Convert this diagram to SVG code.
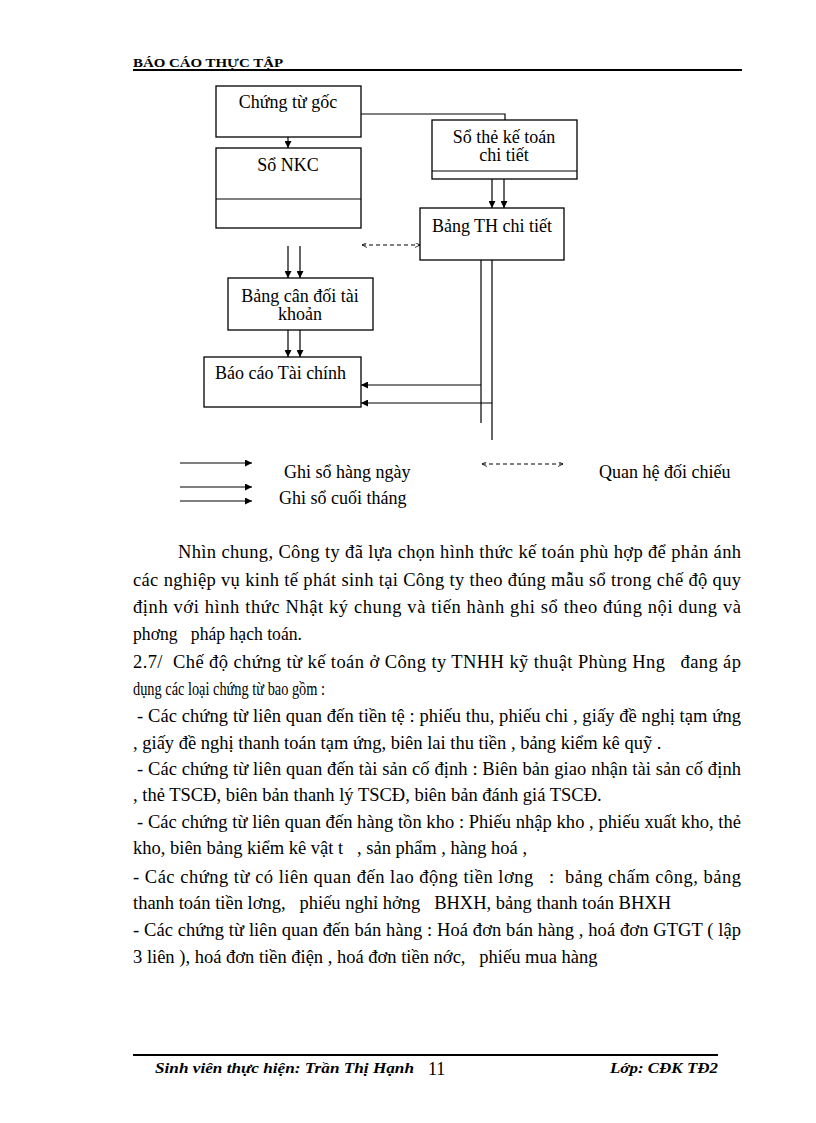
<svg xmlns="http://www.w3.org/2000/svg" width="816" height="1123" viewBox="0 0 816 1123">
<style>
.box{fill:#fff;stroke:#000;stroke-width:1.3}
.ln{stroke:#000;stroke-width:1.2;fill:none}
.dash{stroke:#000;stroke-width:1;fill:none;stroke-dasharray:4 3}
.t{font-family:"Liberation Serif","Times New Roman",serif;font-size:18px;fill:#000}
.b{font-family:"Liberation Serif","Times New Roman",serif;font-size:18.5px;fill:#000}
.hd{font-family:"Liberation Serif",serif;font-weight:bold;font-size:12px;fill:#000}
.ft{font-family:"Liberation Serif",serif;font-weight:bold;font-style:italic;font-size:14px;fill:#000}
</style>
<defs>
<marker id="ah" viewBox="0 0 10 10" refX="10" refY="5" markerWidth="7" markerHeight="7" markerUnits="userSpaceOnUse" orient="auto">
<path d="M0,0 L10,5 L0,10 z" fill="#000"/>
</marker>
<marker id="oh" viewBox="0 0 10 10" refX="10" refY="5" markerWidth="5" markerHeight="5" markerUnits="userSpaceOnUse" orient="auto-start-reverse">
<path d="M0,0 L10,5 L0,10" fill="none" stroke="#000" stroke-width="1.5"/>
</marker>
</defs>

<g id="header">
<text class="hd" x="133" y="67" textLength="150" lengthAdjust="spacingAndGlyphs">BÁO CÁO THỰC TẬP</text>
<line x1="133" y1="70" x2="742" y2="70" stroke="#000" stroke-width="2"/>
</g>

<g id="connectors">
<line class="ln" x1="288" y1="137" x2="288" y2="148" marker-end="url(#ah)"/>
<polyline class="ln" points="361,114 505,114 505,120"/>
<line class="ln" x1="492" y1="179" x2="492" y2="208" marker-end="url(#ah)"/>
<line class="ln" x1="504" y1="179" x2="504" y2="208" marker-end="url(#ah)"/>
<line class="dash" x1="362" y1="245" x2="420" y2="245" marker-start="url(#oh)" marker-end="url(#oh)"/>
<line class="ln" x1="288" y1="246" x2="288" y2="278" marker-end="url(#ah)"/>
<line class="ln" x1="300" y1="246" x2="300" y2="278" marker-end="url(#ah)"/>
<line class="ln" x1="288" y1="330" x2="288" y2="357" marker-end="url(#ah)"/>
<line class="ln" x1="300" y1="330" x2="300" y2="357" marker-end="url(#ah)"/>
<line class="ln" x1="481" y1="260" x2="481" y2="423"/>
<line class="ln" x1="492" y1="260" x2="492" y2="440"/>
<line class="ln" x1="481" y1="385" x2="361" y2="385" marker-end="url(#ah)"/>
<line class="ln" x1="492" y1="403" x2="361" y2="403" marker-end="url(#ah)"/>
</g>

<g id="n-chungtugoc">
<rect class="box" x="216" y="86" width="145" height="51"/>
<text class="t" x="288" y="108" text-anchor="middle">Chứng từ gốc</text>
</g>
<g id="n-sonkc">
<rect class="box" x="216" y="148" width="145" height="80"/>
<line class="ln" x1="216" y1="199" x2="361" y2="199"/>
<text class="t" x="288" y="171" text-anchor="middle">Sổ NKC</text>
</g>
<g id="n-sothe">
<rect class="box" x="432" y="120" width="145" height="59"/>
<line class="ln" x1="432" y1="171" x2="577" y2="171"/>
<text class="t" x="504" y="143" text-anchor="middle">Sổ thẻ kế toán</text>
<text class="t" x="504" y="161" text-anchor="middle">chi tiết</text>
</g>
<g id="n-bangth">
<rect class="box" x="420" y="208" width="144" height="52"/>
<text class="t" x="492" y="232" text-anchor="middle">Bảng TH chi tiết</text>
</g>
<g id="n-bangcandoi">
<rect class="box" x="228" y="278" width="145" height="52"/>
<text class="t" x="300" y="302" text-anchor="middle">Bảng cân đối tài</text>
<text class="t" x="300" y="320" text-anchor="middle">khoản</text>
</g>
<g id="n-baocao">
<rect class="box" x="204" y="357" width="157" height="50"/>
<text class="t" x="215" y="379">Báo cáo  Tài chính</text>
</g>

<g id="legend">
<line class="ln" x1="180" y1="463" x2="252" y2="463" marker-end="url(#ah)"/>
<text class="t" x="284" y="478">Ghi sổ hàng ngày</text>
<line class="ln" x1="180" y1="487" x2="252" y2="487" marker-end="url(#ah)"/>
<line class="ln" x1="180" y1="501" x2="252" y2="501" marker-end="url(#ah)"/>
<text class="t" x="279" y="504">Ghi sổ cuối tháng</text>
<line class="dash" x1="482" y1="464" x2="563" y2="464" marker-start="url(#oh)" marker-end="url(#oh)"/>
<text class="t" x="599" y="478">Quan hệ đối chiếu</text>
</g>

<g id="body">
<text class="b" x="178" y="558" textLength="563" lengthAdjust="spacing">Nhìn chung, Công ty đã lựa chọn hình thức kế toán phù hợp để phản ánh</text>
<text class="b" x="133" y="586" textLength="608" lengthAdjust="spacing">các nghiệp vụ kinh tế phát sinh tại Công ty theo đúng mẫu sổ trong chế độ quy</text>
<text class="b" x="133" y="613" textLength="608" lengthAdjust="spacing">định với hình thức Nhật ký chung và tiến hành ghi sổ theo đúng nội dung và</text>
<text class="b" x="133" y="640" textLength="169" lengthAdjust="spacingAndGlyphs" xml:space="preserve">phơng   pháp hạch toán.</text>
<text class="b" x="133" y="668" textLength="608" lengthAdjust="spacing" xml:space="preserve">2.7/  Chế độ chứng từ kế toán ở Công ty TNHH kỹ thuật Phùng Hng   đang áp</text>
<text class="b" x="133" y="695" textLength="192" lengthAdjust="spacingAndGlyphs">dụng các loại chứng từ bao gồm :</text>
<text class="b" x="137" y="722" textLength="604" lengthAdjust="spacing">- Các chứng từ liên quan đến tiền tệ : phiếu thu, phiếu chi , giấy đề nghị tạm ứng</text>
<text class="b" x="133" y="749">, giấy đề nghị thanh toán tạm ứng, biên lai thu tiền , bảng kiểm kê quỹ .</text>
<text class="b" x="137" y="775" textLength="604" lengthAdjust="spacing">- Các chứng từ liên quan đến tài sản cố định : Biên bản giao nhận tài sản cố định</text>
<text class="b" x="133" y="801">, thẻ TSCĐ, biên bản thanh lý TSCĐ, biên bản đánh giá TSCĐ.</text>
<text class="b" x="137" y="828" textLength="604" lengthAdjust="spacing">- Các chứng từ liên quan đến hàng tồn kho : Phiếu nhập kho , phiếu xuất kho, thẻ</text>
<text class="b" x="133" y="854" xml:space="preserve">kho, biên bảng kiểm kê vật t   , sản phẩm , hàng hoá ,</text>
<text class="b" x="133" y="883" textLength="608" lengthAdjust="spacing" xml:space="preserve">- Các chứng từ có liên quan đến lao động tiền lơng   :  bảng chấm công, bảng</text>
<text class="b" x="133" y="909" xml:space="preserve">thanh toán tiền lơng,   phiếu nghỉ hởng   BHXH, bảng thanh toán BHXH</text>
<text class="b" x="133" y="936" textLength="608" lengthAdjust="spacing">- Các chứng từ liên quan đến bán hàng : Hoá đơn bán hàng , hoá đơn GTGT ( lập</text>
<text class="b" x="133" y="963" xml:space="preserve">3 liên ), hoá đơn tiền điện , hoá đơn tiền nớc,   phiếu mua hàng</text>
</g>

<g id="footer">
<line x1="133" y1="1055" x2="718" y2="1055" stroke="#000" stroke-width="2"/>
<text class="ft" x="155" y="1073" textLength="259" lengthAdjust="spacingAndGlyphs">Sinh viên thực hiện: Trần Thị Hạnh</text>
<text class="t" x="428" y="1075">11</text>
<text class="ft" x="610" y="1073" textLength="108" lengthAdjust="spacingAndGlyphs">Lớp: CĐK TĐ2</text>
</g>
</svg>
